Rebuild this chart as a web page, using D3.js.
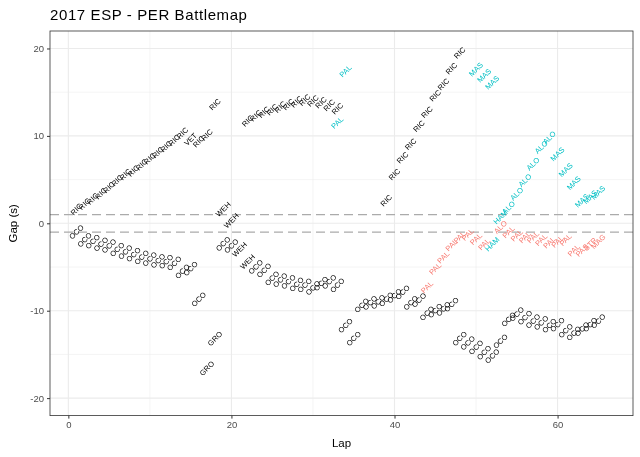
<!DOCTYPE html>
<html>
<head>
<meta charset="utf-8">
<script src="https://cdn.jsdelivr.net/npm/d3@7"></script>
<style>
  body { margin: 0; background: #fff; }
  svg { display: block; font-family: "Liberation Sans", Arial, Helvetica, sans-serif; opacity: 0.999; will-change: transform; }
</style>
</head>
<body>
<svg id="chart" width="640" height="457"></svg>
<script>
// ---- data (lap, gap in seconds) ----
const titleText = "2017 ESP - PER Battlemap";
const xTicks = [0, 20, 40, 60];
const yTicks = [-20, -10, 0, 10, 20];
const dashedLines = [1, -1];

// black labels
const RIC_laps = [1,2,3,4,5,6,7,8,9,10,11,12,13,14,16,17,18,22,23,24,25,26,27,28,29,30,31,32,33,39,40,41,42,43,44,45,46,47,48];
const RIC_gaps = [1.6,2.2,2.8,3.4,4.1,4.9,5.6,6.0,6.7,7.4,8.1,8.8,9.5,10.3,9.35,10.1,13.6,11.7,12.3,12.7,13.0,13.3,13.6,13.9,14.1,14.0,13.8,13.5,13.1,2.6,5.6,7.5,9.05,11.1,12.7,14.6,15.9,17.7,19.5];
const VET_laps = [15];
const VET_gaps = [9.6];
const WEH_laps = [19, 20, 21, 22];
const WEH_gaps = [1.6, 0.3, -3.0, -4.4];
const GRO_laps = [17, 18];
const GRO_gaps = [-16.6, -13.2];
const OCO_laps = [1,2,3,4,5,6,7,8,9,10,11,12,13,14,15,16,19,20,23,24,25,26,27,28,29,30,31,32,33,34,35,36,37,38,39,40,41,42,43,44,45,46,47,48,49,50,51,52,53,54,55,56,57,58,59,60,61,62,63,64,65];
const OCO_gaps = [-1.0,-1.9,-2.1,-2.4,-2.6,-3.0,-3.3,-3.6,-3.9,-4.1,-4.3,-4.4,-4.6,-5.5,-5.2,-8.7,-2.35,-2.6,-5.0,-5.4,-6.3,-6.5,-6.7,-7.0,-7.1,-7.4,-6.9,-6.7,-7.1,-11.7,-13.2,-9.4,-9.1,-9.0,-8.7,-8.3,-7.9,-9.1,-8.8,-10.3,-10.0,-9.8,-9.3,-13.2,-13.7,-14.2,-14.8,-15.2,-13.5,-11.0,-10.4,-10.8,-11.2,-11.4,-11.7,-11.6,-12.3,-12.6,-12.1,-11.6,-11.2];

// cyan labels
const PALc_laps = [33, 34];
const PALc_gaps = [11.5, 17.4];
const MAS_laps = [50, 51, 52, 60, 61, 62, 63, 64, 65];
const MAS_gaps = [17.6, 16.9, 16.1, 7.9, 6.1, 4.6, 2.6, 3.0, 3.5];
const HAM_laps = [52, 53];
const HAM_gaps = [-2.4, 0.7];
const ALOc_laps = [54, 55, 56, 57, 58, 59];
const ALOc_gaps = [1.8, 3.35, 4.9, 6.8, 8.7, 9.8];

// red labels
const PALr_laps = [44,45,46,47,48,49,50,51,54,55,56,57,58,59,60,61,62];
const PALr_gaps = [-7.3,-5.2,-3.9,-2.5,-1.6,-1.3,-1.8,-2.4,-1.0,-1.4,-1.6,-1.6,-1.9,-2.2,-2.1,-1.9,-3.1];
const ALOr_laps = [53];
const ALOr_gaps = [-0.45];
const PAS_laps = [63];
const PAS_gaps = [-3.1];
const STR_laps = [64];
const STR_gaps = [-2.4];
const MAG_laps = [65];
const MAG_gaps = [-2.1];

const BLACK = "#000000", CYAN = "#00BFC4", RED = "#F8766D";
const groups = [
  ["RIC", RIC_laps, RIC_gaps, BLACK],
  ["VET", VET_laps, VET_gaps, BLACK],
  ["WEH", WEH_laps, WEH_gaps, BLACK],
  ["GRO", GRO_laps, GRO_gaps, BLACK],
  ["OCO", OCO_laps, OCO_gaps, BLACK],
  ["PAL", PALc_laps, PALc_gaps, CYAN],
  ["MAS", MAS_laps, MAS_gaps, CYAN],
  ["HAM", HAM_laps, HAM_gaps, CYAN],
  ["ALO", ALOc_laps, ALOc_gaps, CYAN],
  ["PAL", PALr_laps, PALr_gaps, RED],
  ["ALO", ALOr_laps, ALOr_gaps, RED],
  ["PAS", PAS_laps, PAS_gaps, RED],
  ["STR", STR_laps, STR_gaps, RED],
  ["MAG", MAG_laps, MAG_gaps, RED]
];
const points = [];
groups.forEach(([name, laps, gaps, col]) => {
  laps.forEach((l, i) => points.push({ name, lap: l, gap: gaps[i], col }));
});

// ---- layout ----
const svg = d3.select("#chart");
const P = { left: 50, right: 633, top: 31, bottom: 415.6 };

const x = d3.scaleLinear().domain([-2.25, 69.25]).range([P.left, P.right]);
const y = d3.scaleLinear().domain([-22, 22]).range([P.bottom, P.top]);

svg.append("rect").attr("x", 0).attr("y", 0).attr("width", 640).attr("height", 457).attr("fill", "#FFFFFF");

// minor grid
const xMinor = [10, 30, 50];
const yMinor = [-15, -5, 5, 15];
const grid = svg.append("g");
grid.selectAll(".xm").data(xMinor).join("line")
  .attr("x1", d => x(d)).attr("x2", d => x(d)).attr("y1", P.top).attr("y2", P.bottom)
  .attr("stroke", "#EBEBEB").attr("stroke-width", 0.55);
grid.selectAll(".ym").data(yMinor).join("line")
  .attr("y1", d => y(d)).attr("y2", d => y(d)).attr("x1", P.left).attr("x2", P.right)
  .attr("stroke", "#EBEBEB").attr("stroke-width", 0.55);
// major grid
grid.selectAll(".xM").data(xTicks).join("line")
  .attr("x1", d => x(d)).attr("x2", d => x(d)).attr("y1", P.top).attr("y2", P.bottom)
  .attr("stroke", "#EBEBEB").attr("stroke-width", 1.1);
grid.selectAll(".yM").data(yTicks).join("line")
  .attr("y1", d => y(d)).attr("y2", d => y(d)).attr("x1", P.left).attr("x2", P.right)
  .attr("stroke", "#EBEBEB").attr("stroke-width", 1.1);

// dashed reference lines
svg.append("g").selectAll("line").data(dashedLines).join("line")
  .attr("x1", P.left).attr("x2", P.right)
  .attr("y1", d => y(d)).attr("y2", d => y(d))
  .attr("stroke", "#ABABAB").attr("stroke-width", 1.2)
  .attr("stroke-dasharray", "9,5");

// labels
svg.append("g").selectAll("text").data(points).join("text")
  .attr("transform", d => `translate(${x(d.lap)},${y(d.gap)}) rotate(-45)`)
  .attr("text-anchor", "middle")
  .attr("dominant-baseline", "central")
  .attr("font-size", "7.5px")
  .attr("fill", d => d.col)
  .text(d => d.name);

// panel border
svg.append("rect").attr("x", P.left).attr("y", P.top)
  .attr("width", P.right - P.left).attr("height", P.bottom - P.top)
  .attr("fill", "none").attr("stroke", "#333333").attr("stroke-width", 0.8);

// axes
const fmt = d => String(d);
const xAxis = d3.axisBottom(x).tickValues(xTicks).tickFormat(fmt).tickSize(3).tickPadding(3);
const gx = svg.append("g").attr("transform", `translate(0,${P.bottom})`).call(xAxis);
gx.select(".domain").remove();
gx.selectAll("line").attr("stroke", "#333333");
gx.selectAll("text").attr("fill", "#4D4D4D").attr("font-size", "9.5px")
  .attr("font-family", "Liberation Sans, Arial, sans-serif");

const yAxis = d3.axisLeft(y).tickValues(yTicks).tickFormat(fmt).tickSize(3).tickPadding(3);
const gy = svg.append("g").attr("transform", `translate(${P.left},0)`).call(yAxis);
gy.select(".domain").remove();
gy.selectAll("line").attr("stroke", "#333333");
gy.selectAll("text").attr("fill", "#4D4D4D").attr("font-size", "9.5px")
  .attr("font-family", "Liberation Sans, Arial, sans-serif");

// titles
svg.append("text").attr("x", P.left).attr("y", 20)
  .attr("font-size", "15px").attr("letter-spacing", "0.6px").attr("fill", "#000").text(titleText);
svg.append("text").attr("x", (P.left + P.right) / 2).attr("y", 447)
  .attr("text-anchor", "middle").attr("font-size", "11.5px").attr("fill", "#000").text("Lap");
svg.append("text").attr("transform", `translate(17,${(P.top + P.bottom) / 2}) rotate(-90)`)
  .attr("text-anchor", "middle").attr("font-size", "11.5px").attr("fill", "#000").text("Gap (s)");
</script>
</body>
</html>
